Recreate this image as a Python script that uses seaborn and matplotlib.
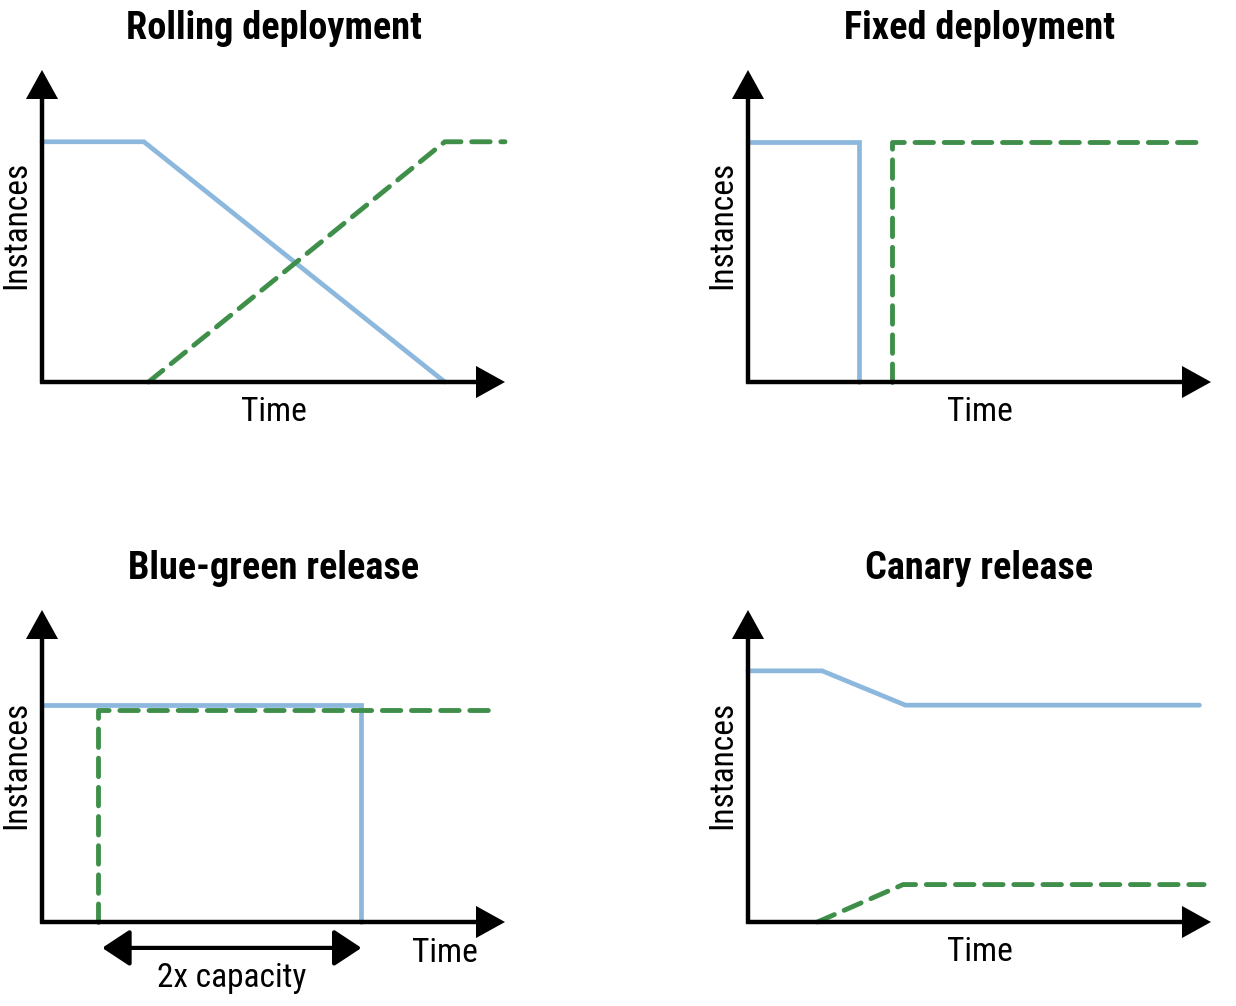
"""Deployment strategies — four small instance-vs-time sketches."""

import matplotlib.pyplot as plt
import seaborn as sns

sns.set_theme(style="white")
plt.rcParams["font.family"] = ["Roboto Condensed", "Liberation Sans Narrow", "Roboto", "DejaVu Sans"]
plt.rcParams["text.color"] = "black"

BLUE = "#8db8de"
GREEN = "#3f8f4a"
DASH = (0, (3.8, 2.2))

# time / instance values, axes run 0..10 on both
rolling_old_t = [0.0, 2.2, 8.7]
rolling_old_n = [7.7, 7.7, 0.0]
rolling_new_t = [2.3, 8.7, 10.0]
rolling_new_n = [0.0, 7.7, 7.7]

fixed_old_t = [0.0, 2.4, 2.4]
fixed_old_n = [7.7, 7.7, 0.0]
fixed_new_t = [3.1, 3.1, 9.85]
fixed_new_n = [0.0, 7.7, 7.7]

bg_old_t = [0.0, 6.9, 6.9]
bg_old_n = [6.95, 6.95, 0.0]
bg_new_t = [1.2, 1.2, 9.8]
bg_new_n = [0.0, 6.8, 6.8]
bg_capacity = (1.3, 6.9)

canary_old_t = [0.0, 1.6, 3.4, 9.75]
canary_old_n = [8.05, 8.05, 6.95, 6.95]
canary_new_t = [1.5, 3.35, 9.85]
canary_new_n = [0.0, 1.2, 1.2]

PANELS = [
    ("Rolling deployment", (42, 382), rolling_old_t, rolling_old_n, rolling_new_t, rolling_new_n),
    ("Fixed deployment", (748, 382), fixed_old_t, fixed_old_n, fixed_new_t, fixed_new_n),
    ("Blue-green release", (42, 922), bg_old_t, bg_old_n, bg_new_t, bg_new_n),
    ("Canary release", (748, 922), canary_old_t, canary_old_n, canary_new_t, canary_new_n),
]

W, H = 1236, 1006
AX_W, AX_H = 463, 312
TITLE_FS = 27.5
LABEL_FS = 24


def draw_axes_arrows(ax):
    style = dict(arrowstyle="-|>,head_length=0.47,head_width=0.26", lw=3.2, color="black",
                 mutation_scale=34, shrinkA=0, shrinkB=0, joinstyle="miter", capstyle="butt")
    ax.annotate("", xy=(10, 0), xytext=(-0.04, 0), arrowprops=style, annotation_clip=False)
    ax.annotate("", xy=(0, 10), xytext=(0, -0.05), arrowprops=style, annotation_clip=False)


fig = plt.figure(figsize=(W / 100, H / 100), dpi=100)

for title, (ox, oy), ot, on, nt, nn in PANELS:
    ax = fig.add_axes([ox / W, 1 - oy / H, AX_W / W, AX_H / H])
    ax.set_xlim(0, 10)
    ax.set_ylim(0, 10)
    ax.set_axis_off()

    sns.lineplot(x=ot, y=on, ax=ax, color=BLUE, lw=3.4, sort=False, estimator=None,
                 clip_on=False, solid_joinstyle="miter")
    sns.lineplot(x=nt, y=nn, ax=ax, color=GREEN, lw=3.5, sort=False, estimator=None,
                 clip_on=False, linestyle=DASH, dash_capstyle="round")
    draw_axes_arrows(ax)

    ax.text(5.0, 11.33, title, ha="center", va="center", fontsize=TITLE_FS, fontweight="bold")
    ax.text(-0.55, 5.03, "Instances", ha="center", va="center", rotation=90, fontsize=LABEL_FS)

    if title == "Blue-green release":
        ax.text(8.7, -1.0, "Time", ha="center", va="center", fontsize=LABEL_FS)
        ax.annotate("", xy=(bg_capacity[1], -0.83), xytext=(bg_capacity[0], -0.83),
                    arrowprops=dict(arrowstyle="<|-|>,head_length=0.5,head_width=0.33",
                                    lw=3, color="black", mutation_scale=34,
                                    shrinkA=0, shrinkB=0),
                    annotation_clip=False)
        ax.text(sum(bg_capacity) / 2, -1.8, "2x capacity", ha="center", va="center",
                fontsize=LABEL_FS)
    else:
        ax.text(5.0, -0.95, "Time", ha="center", va="center", fontsize=LABEL_FS)

fig.savefig("out.png", dpi=100)
